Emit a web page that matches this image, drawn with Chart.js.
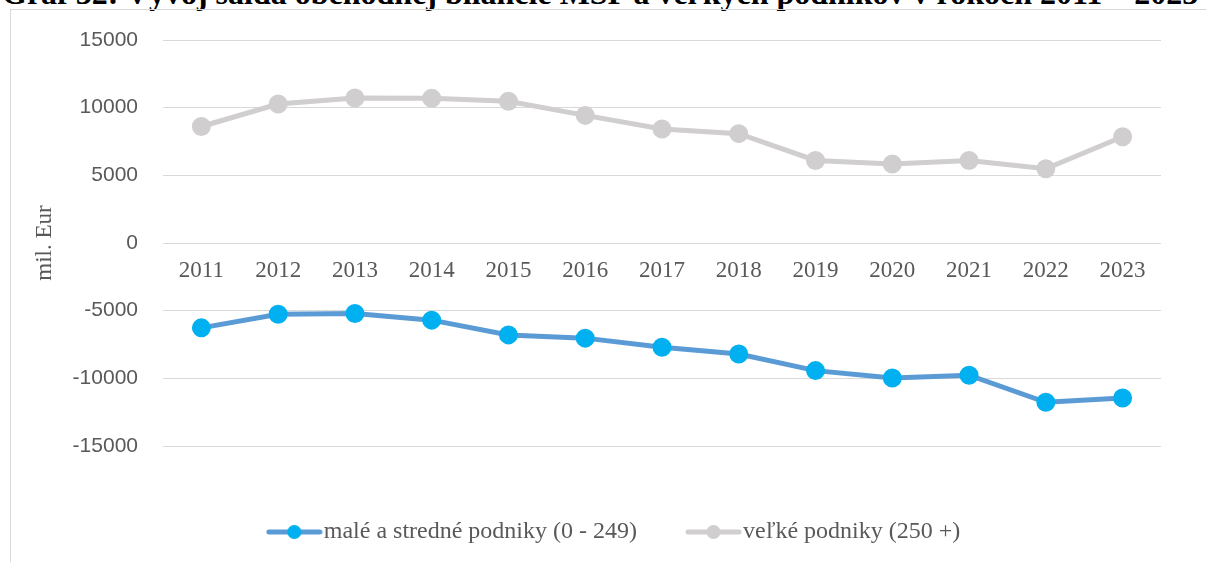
<!DOCTYPE html>
<html lang="sk">
<head>
<meta charset="utf-8">
<title>Graf 32</title>
<script src="https://cdn.jsdelivr.net/npm/chart.js@4/dist/chart.umd.min.js"></script>
<style>
  html, body {
    margin: 0;
    padding: 0;
    background: #fff;
    overflow: hidden;
    width: 1206px;
    height: 562px;
  }
  #nadpis {
    position: absolute;
    left: 2px;
    top: -23px;
    font: bold 32px "Liberation Serif", "Times New Roman", serif;
    line-height: 1;
    color: #000;
    white-space: nowrap;
  }
  #ramik {
    position: absolute;
    left: 10px;
    top: 9px;
    width: 1230px;
    height: 600px;
    border-left: 1px solid #d9d9d9;
    border-top: 1px solid #d9d9d9;
  }
  #graf {
    position: absolute;
    left: 0;
    top: 0;
  }
</style>
</head>
<body>
<div id="nadpis">Graf 32: Vývoj salda obchodnej bilancie MSP a veľkých podnikov v rokoch 2011 – 2023</div>
<div id="ramik"><canvas id="graf" width="1215" height="552"></canvas></div>

<script>
// roky
const roky = ["2011", "2012", "2013", "2014", "2015", "2016", "2017", "2018", "2019", "2020", "2021", "2022", "2023"];

// saldo MSP (mil. Eur)
const maleStredne = [-6270, -5260, -5210, -5700, -6790, -7030, -7700, -8200, -9430, -9970, -9770, -11770, -11450];

// saldo velkych podnikov (mil. Eur)
const velke = [8610, 10270, 10720, 10700, 10470, 9430, 8430, 8080, 6100, 5840, 6100, 5490, 7850];

// popisky osi y
const osY = [-15000, -10000, -5000, 0, 5000, 10000, 15000];

const sivaText = "#595959";
const serif = '"Liberation Serif", "Times New Roman", serif';

// ikonka do legendy: ciara so znackou
function ikonka(farbaCiary, farbaBodu) {
  const c = document.createElement("canvas");
  c.width = 57;
  c.height = 16;
  const g = c.getContext("2d");
  g.strokeStyle = farbaCiary;
  g.lineWidth = 5;
  g.lineCap = "round";
  g.beginPath();
  g.moveTo(3, 8);
  g.lineTo(54, 8);
  g.stroke();
  g.fillStyle = farbaBodu;
  g.beginPath();
  g.arc(28.5, 8, 7, 0, Math.PI * 2);
  g.fill();
  return c;
}

const ikonky = [ikonka("#5b9bd5", "#00b0f0"), ikonka("#d0cece", "#d0cece")];

document.addEventListener("DOMContentLoaded", () => {
  const ctx = document.getElementById("graf").getContext("2d");

  new Chart(ctx, {
    type: "line",
    data: {
      labels: roky,
      datasets: [
        {
          label: "malé a stredné podniky (0 - 249)",
          data: maleStredne,
          borderColor: "#5b9bd5",
          backgroundColor: "#00b0f0",
          pointBackgroundColor: "#00b0f0",
          pointBorderColor: "#00b0f0",
          borderWidth: 5,
          pointRadius: 7,
          pointHoverRadius: 7,
          tension: 0,
        },
        {
          label: "veľké podniky (250 +)",
          data: velke,
          borderColor: "#d0cece",
          backgroundColor: "#d0cece",
          pointBackgroundColor: "#d0cece",
          pointBorderColor: "#d0cece",
          borderWidth: 5,
          pointRadius: 7,
          pointHoverRadius: 7,
          tension: 0,
        },
      ],
    },
    options: {
      responsive: false,
      animation: false,
      layout: {
        padding: { top: 30, right: 0, bottom: 8, left: 0 },
      },
      plugins: {
        tooltip: { enabled: false },
        legend: {
          position: "bottom",
          title: {
            display: true,
            text: "",
            font: { size: 10, lineHeight: 1 },
            padding: { top: 0, bottom: 5 },
          },
          labels: {
            usePointStyle: true,
            pointStyleWidth: 35,
            padding: 59,
            color: sivaText,
            font: { family: serif, size: 24 },
            generateLabels(chart) {
              const polozky = Chart.defaults.plugins.legend.labels.generateLabels(chart);
              polozky.forEach((p, i) => {
                p.pointStyle = ikonky[i];
              });
              return polozky;
            },
          },
        },
      },
      scales: {
        x: {
          position: { y: 0 },
          offset: true,
          grid: { display: false, drawTicks: false },
          border: { display: false },
          ticks: {
            color: sivaText,
            padding: 14,
            font: { family: serif, size: 23 },
          },
        },
        y: {
          min: osY[0],
          max: osY[osY.length - 1],
          afterBuildTicks(scale) {
            scale.ticks = osY.map((v) => ({ value: v }));
          },
          afterFit(scale) {
            scale.width = 152;
          },
          grid: { color: "#d9d9d9", lineWidth: 1, drawTicks: false },
          border: { display: false },
          ticks: {
            color: sivaText,
            padding: 25,
            font: { family: '"Liberation Sans", Arial, sans-serif', size: 21, lineHeight: 0.4 },
            callback: (v) => String(v),
          },
          title: {
            display: true,
            text: "mil. Eur",
            color: sivaText,
            font: { family: serif, size: 23 },
            padding: { top: 20, bottom: 0 },
          },
        },
        // prazdny okraj vpravo od grafu
        okraj: {
          type: "linear",
          position: "right",
          grid: { display: false },
          border: { display: false },
          ticks: { display: false },
          afterFit(scale) {
            scale.width = 65;
          },
        },
      },
    },
  });
});
</script>
</body>
</html>
